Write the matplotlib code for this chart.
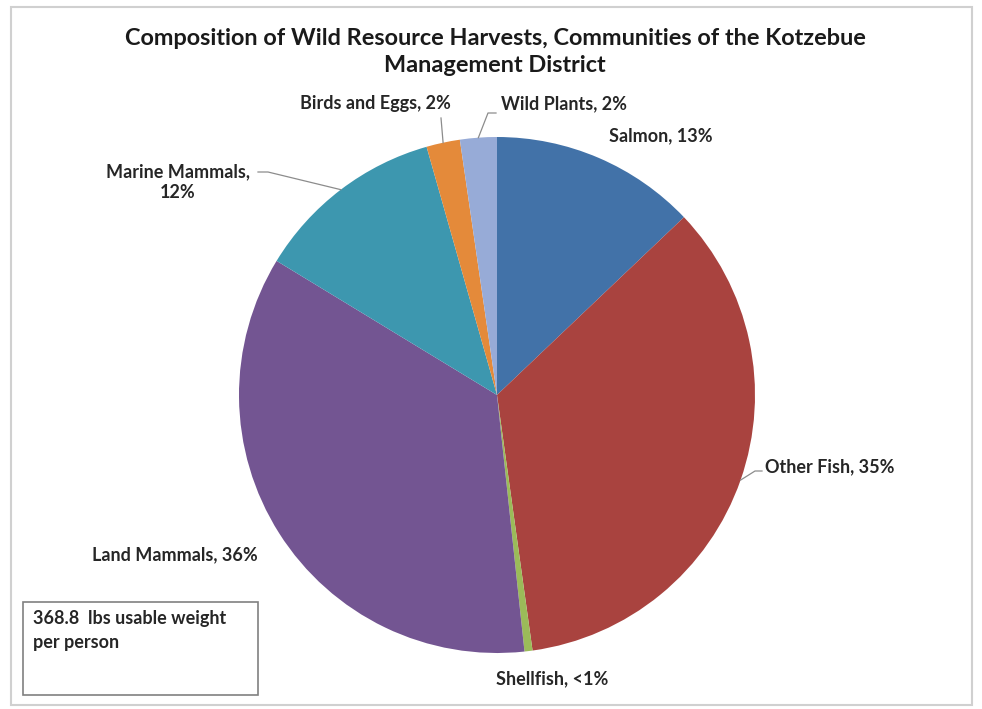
import matplotlib.pyplot as plt
import numpy as np
from matplotlib.patches import Rectangle

# slice values, clockwise from 12 o'clock (%)
categories = ['Salmon', 'Other Fish', 'Shellfish', 'Land Mammals',
              'Marine Mammals', 'Birds and Eggs', 'Wild Plants']
shares = [12.9, 34.9, 0.5, 35.4, 11.9, 2.1, 2.3]
labels = ['Salmon, 13%', 'Other Fish, 35%', 'Shellfish, <1%', 'Land Mammals, 36%',
          'Marine Mammals,\n12%', 'Birds and Eggs, 2%', 'Wild Plants, 2%']
colors = ['#4272A8', '#A9433F', '#9BBB59', '#735592',
          '#3D97AF', '#E48A3A', '#97ABD7']
title = 'Composition of Wild Resource Harvests, Communities of the Kotzebue\nManagement District'
note = '368.8  lbs usable weight\nper person'

W, H = 982, 709
plt.rcParams['font.family'] = ['Lato', 'DejaVu Sans']
fig = plt.figure(figsize=(W / 100, H / 100), dpi=100)


def fp(x, y):
    # pixel position (from top-left) -> figure fraction
    return x / W, 1 - y / H


# pie axes sized in pixels: centre (497, 395), radius 258
cx, cy, r = 497, 395, 258
ax = fig.add_axes([(cx - r) / W, (H - cy - r) / H, 2 * r / W, 2 * r / H])
wedges, _ = ax.pie(shares, colors=colors, startangle=90, counterclock=False,
                   radius=1, wedgeprops=dict(linewidth=0))
ax.set_xlim(-1, 1)
ax.set_ylim(-1, 1)
ax.axis('off')

# label positions (pixel centres) and leader-line bends
label_pos = {
    'Salmon': (661, 136, 'center'),
    'Other Fish': (765, 467, 'left'),
    'Shellfish': (552, 679, 'center'),
    'Land Mammals': (175, 555, 'center'),
    'Marine Mammals': (178, 182, 'center'),
    'Birds and Eggs': (375, 104, 'center'),
    'Wild Plants': (564, 104, 'center'),
}
leaders = {
    'Other Fish': [(762, 471), (755, 471)],
    'Marine Mammals': [(258, 172), (268, 172)],
    'Birds and Eggs': [(441, 118)],
    'Wild Plants': [(496, 113), (488, 113)],
}

for w, cat, lab in zip(wedges, categories, labels):
    x, y, ha = label_pos[cat]
    fx, fy = fp(x, y)
    fig.text(fx, fy, lab, ha=ha, va='center', fontsize=13, fontweight='bold',
             color='#262626', linespacing=1.3)
    if cat in leaders:
        mid = np.deg2rad((w.theta1 + w.theta2) / 2)
        ex, ey = cx + r * np.cos(mid), cy - r * np.sin(mid)
        pts = leaders[cat] + [(ex, ey)]
        xs = [p[0] / W for p in pts]
        ys = [1 - p[1] / H for p in pts]
        fig.add_artist(plt.Line2D(xs, ys, color='#8C8C8C', lw=0.9,
                                  transform=fig.transFigure))

# title
fx, fy = fp(495, 52)
fig.text(fx, fy, title, ha='center', va='center', fontsize=16.9,
         fontweight='bold', color='#1A1A1A', linespacing=1.4)

# note box
x0, y0 = fp(23, 695)
x1, y1 = fp(258, 602)
fig.add_artist(Rectangle((x0, y0), x1 - x0, y1 - y0, transform=fig.transFigure,
                         fill=False, edgecolor='#808080', lw=1.2))
fx, fy = fp(33, 610)
fig.text(fx, fy, note, ha='left', va='top', fontsize=13, fontweight='bold',
         color='#262626', linespacing=1.5)

# outer chart border
x0, y0 = fp(11, 705)
x1, y1 = fp(972, 7)
fig.add_artist(Rectangle((x0, y0), x1 - x0, y1 - y0, transform=fig.transFigure,
                         fill=False, edgecolor='#D0D0D0', lw=1.5))

fig.savefig('out.png', dpi=100)
